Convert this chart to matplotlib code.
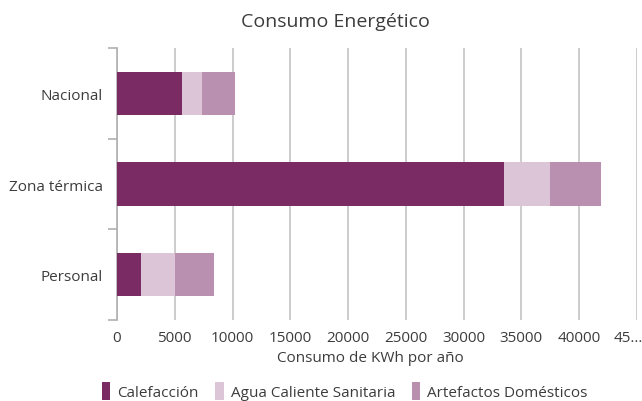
import matplotlib
matplotlib.use("Agg")
import matplotlib.pyplot as plt
from matplotlib.patches import Patch
from matplotlib.transforms import ScaledTranslation

plt.rcParams['font.family'] = ['Open Sans', 'DejaVu Sans']

categories = ["Nacional", "Zona térmica", "Personal"]
series_names = ["Calefacción", "Agua Caliente Sanitaria", "Artefactos Domésticos"]
calefaccion = [5600, 33500, 2050]
agua = [1800, 4000, 2950]
artefactos = [2850, 4400, 3400]
xticks = [0, 5000, 10000, 15000, 20000, 25000, 30000, 35000, 40000, 45000]
xtick_labels = ["0", "5000", "10000", "15000", "20000", "25000", "30000", "35000", "40000", "45..."]
colors = ["#7A2B64", "#DBC5D7", "#B990AF"]
textc = "#3c3c3c"

fig = plt.figure(figsize=(6.42, 4.02), dpi=100)
ax = fig.add_axes([0.1822, 0.2015, 0.8098, 0.6766])

pos = list(range(len(categories)))
left = [0] * len(categories)
for vals, col in zip([calefaccion, agua, artefactos], colors):
    ax.barh(pos, vals, left=left, height=0.48, color=col, zorder=3)
    left = [l + v for l, v in zip(left, vals)]

ax.set_xlim(0, 45000)
ax.set_ylim(2.5, -0.5)
ax.set_xticks(xticks)
ax.set_xticklabels(xtick_labels)
ax.tick_params(axis='x', length=0, labelsize=11, labelcolor=textc, pad=7)
lbls = ax.get_xticklabels()
lbls[-1].set_transform(lbls[-1].get_transform() + ScaledTranslation(-0.09, 0, fig.dpi_scale_trans))
ax.grid(axis='x', color="#c4c4c4", linewidth=1.2, zorder=0)

ax.set_yticks([-0.5, 0.5, 1.5, 2.5])
ax.set_yticklabels([])
ax.set_yticks(pos, minor=True)
ax.set_yticklabels(categories, minor=True)
ax.tick_params(axis='y', which='major', length=6.5, color="#b0b0b0", width=1.2)
ax.tick_params(axis='y', which='minor', length=0, labelsize=11, labelcolor=textc, pad=10)

for s in ["top", "right", "bottom"]:
    ax.spines[s].set_visible(False)
ax.spines["left"].set_color("#b0b0b0")
ax.spines["left"].set_linewidth(1.2)

ax.set_xlabel("Consumo de KWh por año", fontsize=11, color=textc)
ax.xaxis.set_label_coords((370 - 117) / 520, -0.112)
fig.text(0.523, 0.945, "Consumo Energético", ha="center", va="center", fontsize=14, color=textc)

handles = [Patch(facecolor=c, edgecolor='none') for c in colors]
fig.legend(handles, series_names, loc="center", bbox_to_anchor=(0.537, 0.025), ncol=3,
           frameon=False, fontsize=11, labelcolor=textc,
           handlelength=0.55, handleheight=1.5, handletextpad=0.45, columnspacing=1.1)

fig.savefig("out.png", dpi=100)
